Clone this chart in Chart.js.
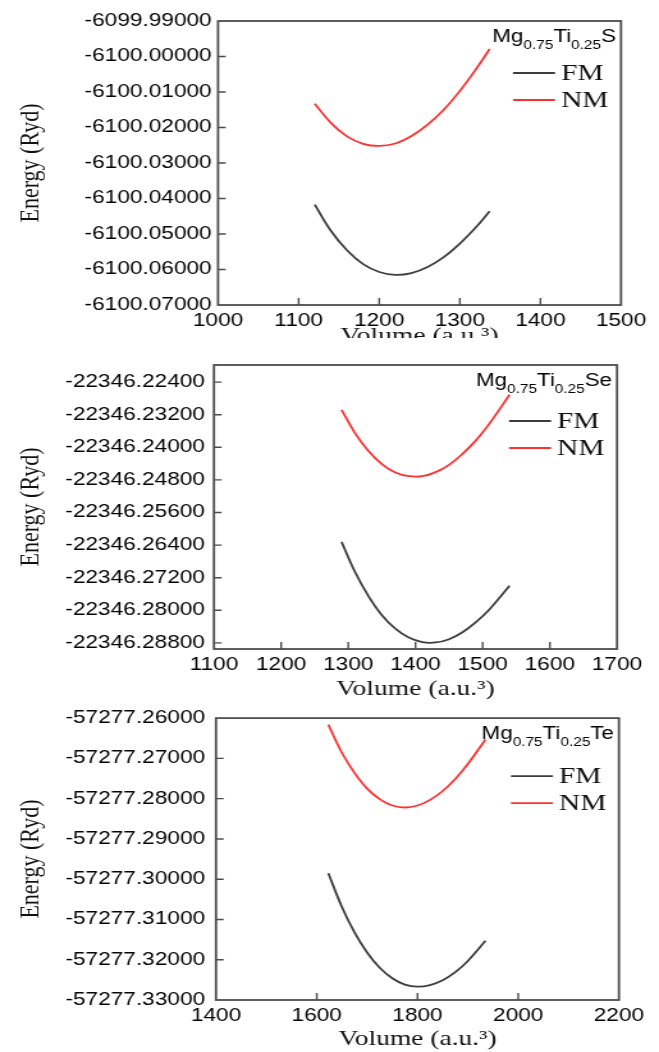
<!DOCTYPE html>
<html><head><meta charset="utf-8">
<script src="https://cdn.jsdelivr.net/npm/chart.js@4.4.1/dist/chart.umd.min.js"></script>
<style>
html,body{margin:0;padding:0;background:#fff;overflow:hidden;}
canvas{display:block;}
</style></head><body>
<canvas id="c1" width="515" height="338" style="width:659px;height:338px"></canvas>
<canvas id="c2" width="515" height="361" style="width:659px;height:361px"></canvas>
<canvas id="c3" width="515" height="353" style="width:659px;height:353px"></canvas>
<script>
// ---------- data ----------
const seriesLabels = ['FM', 'NM'];
const anions = ['S', 'Se', 'Te'];
const xTitle = 'Volume (a.u.³)';
const yTitle = 'Energy (Ryd)';

// Panel 1: Mg0.75Ti0.25S
const xTicks1 = [1000, 1100, 1200, 1300, 1400, 1500];
const yTicks1 = [-6099.99, -6100.00, -6100.01, -6100.02, -6100.03, -6100.04, -6100.05, -6100.06, -6100.07];
const vol1 = [1120, 1140, 1160, 1180, 1200, 1220, 1240, 1260, 1280, 1300, 1320, 1337];
const fmE1 = [-6100.0417, -6100.0491, -6100.0546, -6100.0585, -6100.0607, -6100.0615, -6100.0610, -6100.0593, -6100.0565, -6100.0527, -6100.0481, -6100.0436];
const nmE1 = [-6100.0133, -6100.0187, -6100.0225, -6100.0246, -6100.0252, -6100.0245, -6100.0224, -6100.0192, -6100.0150, -6100.0097, -6100.0036, -6099.9979];

// Panel 2: Mg0.75Ti0.25Se
const xTicks2 = [1100, 1200, 1300, 1400, 1500, 1600, 1700];
const yTicks2 = [-22346.224, -22346.232, -22346.240, -22346.248, -22346.256, -22346.264, -22346.272, -22346.280, -22346.288];
const yRange2 = [-22346.2895, -22346.2198];
const vol2 = [1290, 1310, 1330, 1350, 1370, 1390, 1410, 1430, 1450, 1470, 1490, 1510, 1540];
const fmE2 = [-22346.2632, -22346.2706, -22346.2765, -22346.2812, -22346.2845, -22346.2867, -22346.2878, -22346.2879, -22346.2871, -22346.2854, -22346.2829, -22346.2798, -22346.2740];
const nmE2 = [-22346.2308, -22346.2365, -22346.2409, -22346.2441, -22346.2462, -22346.2471, -22346.2471, -22346.2461, -22346.2443, -22346.2416, -22346.2383, -22346.2342, -22346.2271];

// Panel 3: Mg0.75Ti0.25Te
const xTicks3 = [1400, 1600, 1800, 2000, 2200];
const yTicks3 = [-57277.26, -57277.27, -57277.28, -57277.29, -57277.30, -57277.31, -57277.32, -57277.33];
const vol3 = [1623, 1650, 1675, 1700, 1725, 1750, 1775, 1800, 1825, 1850, 1875, 1900, 1935];
const fmE3 = [-57277.2985, -57277.3069, -57277.3132, -57277.3182, -57277.3220, -57277.3246, -57277.3262, -57277.3267, -57277.3263, -57277.3251, -57277.3231, -57277.3203, -57277.3153];
const nmE3 = [-57277.2616, -57277.2686, -57277.2736, -57277.2775, -57277.2801, -57277.2817, -57277.2822, -57277.2817, -57277.2803, -57277.2781, -57277.2751, -57277.2714, -57277.2653];

// ---------- styling ----------
const K = 659 / 515; // horizontal stretch of the canvas
const SANS = "'Liberation Sans', Arial, sans-serif";
const SERIF = "'Liberation Serif', 'Times New Roman', serif";
const colors = ['#3d3d3d', '#ff3030'];

const annotPlugin = {
  id: 'annot',
  afterDraw(chart, args, opts) {
    const {ctx, chartArea: a} = chart;
    const xs = chart.scales.x, ys = chart.scales.y;
    ctx.save();
    // inward tick marks
    ctx.strokeStyle = '#4d4d4d';
    ctx.lineWidth = 1.4;
    ctx.beginPath();
    const ex = (xs.max - xs.min) * 1e-6, ey = (ys.max - ys.min) * 1e-6;
    xs.ticks.forEach(t => {
      if (t.value > xs.min + ex && t.value < xs.max - ex) {
        const px = xs.getPixelForValue(t.value);
        ctx.moveTo(px, a.bottom); ctx.lineTo(px, a.bottom - 7);
      }
    });
    ys.ticks.forEach(t => {
      if (t.value > ys.min + ey && t.value < ys.max - ey) {
        const py = ys.getPixelForValue(t.value);
        ctx.moveTo(a.left, py); ctx.lineTo(a.left + 6, py);
      }
    });
    ctx.stroke();
    // frame
    ctx.lineWidth = 1.8;
    ctx.strokeRect(a.left, a.top, a.right - a.left, a.bottom - a.top);

    // compound name with subscripts
    const parts = [['Mg', 0], ['0.75', 1], ['Ti', 0], ['0.25', 1], [opts.anion, 0]];
    const mainFont = '17.5px ' + SANS, subFont = '12px ' + SANS;
    let total = 0;
    parts.forEach(p => { ctx.font = p[1] ? subFont : mainFont; total += ctx.measureText(p[0]).width; });
    let x = a.right - 5 / K - total;
    const base = a.top + 21;
    ctx.fillStyle = '#000';
    ctx.textBaseline = 'alphabetic';
    ctx.textAlign = 'left';
    parts.forEach(p => {
      ctx.font = p[1] ? subFont : mainFont;
      ctx.fillText(p[0], x, p[1] ? base + 7 : base);
      x += ctx.measureText(p[0]).width;
    });

    // legend entries
    chart.data.datasets.forEach((ds, i) => {
      const y = a.top + opts.legY + i * 27;
      ctx.strokeStyle = ds.borderColor;
      ctx.lineWidth = 1.8;
      ctx.beginPath();
      ctx.moveTo(a.right - 108 / K, y);
      ctx.lineTo(a.right - 66 / K, y);
      ctx.stroke();
      ctx.font = '23px ' + SERIF;
      ctx.fillStyle = '#111';
      ctx.textBaseline = 'middle';
      ctx.fillText(ds.label, a.right - 60 / K, y + 1);
    });
    ctx.restore();
  }
};

function pts(v, e) { return v.map((x, i) => ({x: x, y: e[i]})); }

function makeChart(id, cfg) {
  const datasets = [cfg.fm, cfg.nm].map((d, i) => ({
    label: seriesLabels[i],
    data: d,
    borderColor: colors[i],
    backgroundColor: colors[i],
    borderWidth: 1.8,
    pointRadius: 0,
    tension: 0.4,
    fill: false
  }));
  return new Chart(document.getElementById(id), {
    type: 'line',
    data: {datasets},
    plugins: [annotPlugin],
    options: {
      responsive: false,
      animation: false,
      devicePixelRatio: 1,
      layout: {padding: {left: 0, top: cfg.top, right: cfg.right, bottom: 0}},
      plugins: {legend: {display: false}, tooltip: {enabled: false}, annot: {anion: cfg.anion, legY: cfg.legY}},
      scales: {
        x: {
          type: 'linear',
          min: cfg.xTicks[0], max: cfg.xTicks[cfg.xTicks.length - 1],
          afterBuildTicks: s => { s.ticks = cfg.xTicks.map(v => ({value: v})); },
          afterFit: s => { s.height = cfg.xH; },
          grid: {display: false, drawTicks: false},
          border: {display: false},
          ticks: {padding: 5, color: '#000', font: {family: SANS, size: 17.7}, maxRotation: 0, autoSkip: false,
                  callback: v => String(v)},
          title: {display: true, text: xTitle, color: '#111', font: {family: SERIF, size: 21.5},
                  padding: {top: 0, bottom: cfg.tpb}}
        },
        y: {
          type: 'linear',
          min: cfg.yMin, max: cfg.yMax,
          afterBuildTicks: s => { s.ticks = cfg.yTicks.map(v => ({value: v})); },
          afterFit: s => { s.width = cfg.yW; },
          grid: {display: false, drawTicks: false},
          border: {display: false},
          ticks: {padding: cfg.yPad, color: '#000', font: {family: SANS, size: 17.7}, autoSkip: false,
                  callback: v => Number(v).toFixed(5)},
          title: {display: true, text: yTitle, color: '#111', font: {family: SERIF, size: 22},
                  padding: {top: 11, bottom: 0}}
        }
      }
    }
  });
}

makeChart('c1', {
  fm: pts(vol1, fmE1), nm: pts(vol1, nmE1), anion: anions[0],
  xTicks: xTicks1, yTicks: yTicks1, yMin: yTicks1[yTicks1.length - 1], yMax: yTicks1[0],
  top: 21, right: 29.7, yW: 170.4, xH: 33, tpb: -11.6, yPad: 5, legY: 52
});
makeChart('c2', {
  fm: pts(vol2, fmE2), nm: pts(vol2, nmE2), anion: anions[1],
  xTicks: xTicks2, yTicks: yTicks2, yMin: yRange2[0], yMax: yRange2[1],
  top: 27, right: 32.8, yW: 167.2, xH: 50, tpb: -3.6, yPad: 7, legY: 56
});
makeChart('c3', {
  fm: pts(vol3, fmE3), nm: pts(vol3, nmE3), anion: anions[2],
  xTicks: xTicks3, yTicks: yTicks3, yMin: yTicks3[yTicks3.length - 1], yMax: yTicks3[0],
  top: 18, right: 31.3, yW: 168.8, xH: 52, tpb: -0.6, yPad: 8.5, legY: 58
});
</script>
</body></html>
